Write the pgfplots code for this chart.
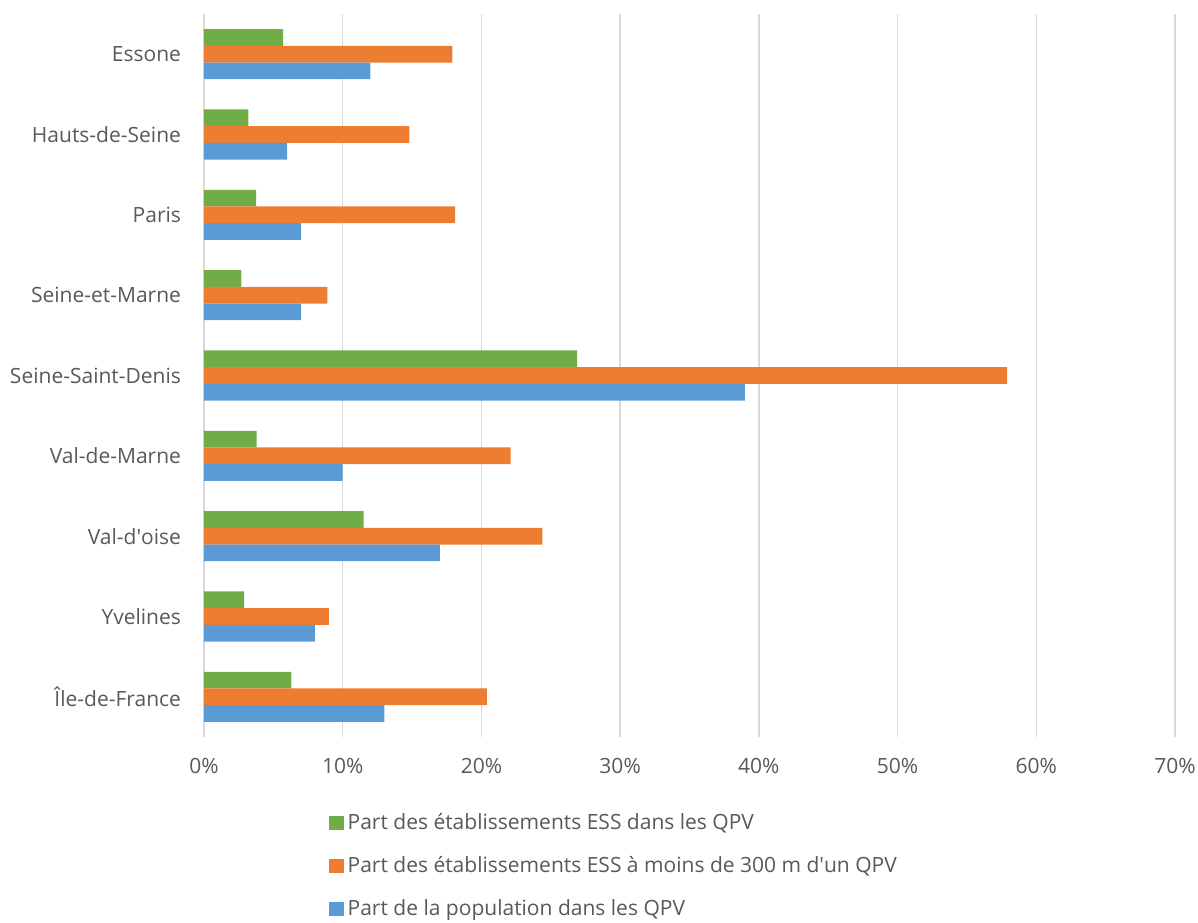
\documentclass[border=0pt]{standalone}
\usepackage{fontspec}
\setmainfont{Open Sans}
\usepackage{pgfplots}
\pgfplotsset{compat=1.18}
\definecolor{cgreen}{HTML}{70AD47}
\definecolor{corange}{HTML}{ED7D31}
\definecolor{cblue}{HTML}{5B9BD5}
\definecolor{ctext}{HTML}{595959}
\definecolor{cgrid}{HTML}{D9D9D9}
\begin{document}
\begin{tikzpicture}[font=\fontsize{10.5}{12.5}\selectfont]
\useasboundingbox (-102pt,-92.5pt) rectangle (497pt,368.5pt);
\begin{axis}[
  at={(0,0)}, anchor=south west,
  scale only axis, width=485.5pt, height=361.5pt,
  xmin=0, xmax=70, ymin=-0.5, ymax=8.5,
  xtick={0,10,...,70},
  xticklabel={\pgfmathprintnumber{\tick}\%},
  /pgf/number format/assume math mode=true,
  ytick={0,...,8},
  yticklabels={Île-de-France,Yvelines,Val-d\textquotesingle oise,Val-de-Marne,Seine-Saint-Denis,Seine-et-Marne,Paris,Hauts-de-Seine,Essone},
  xmajorgrids, major grid style={cgrid, line width=0.75pt},
  axis line style={draw=none},
  major tick length=0pt,
  tick label style={text=ctext},
  xticklabel style={yshift=-7pt},
  yticklabel style={xshift=-8pt},
  xbar, bar width=8.35pt,
  legend style={draw=none, at={(0.122,-0.094)}, anchor=north west, text=ctext,
    legend cell align=left, row sep=8pt,
    /tikz/every even column/.append style={column sep=2pt}},
  legend image code/.code={\fill[#1] (0pt,-3.6pt) rectangle (7.4pt,3.6pt);},
]
\addplot[fill=cgreen, draw=none, bar shift=8.35pt] coordinates {
(5.7,8) (3.2,7) (3.75,6) (2.7,5) (26.9,4) (3.8,3) (11.5,2) (2.9,1) (6.3,0)};
\addplot[fill=corange, draw=none, bar shift=0pt] coordinates {
(17.9,8) (14.8,7) (18.1,6) (8.9,5) (57.9,4) (22.1,3) (24.4,2) (9.0,1) (20.4,0)};
\addplot[fill=cblue, draw=none, bar shift=-8.35pt] coordinates {
(12.0,8) (6.0,7) (7.0,6) (7.0,5) (39.0,4) (10.0,3) (17.0,2) (8.0,1) (13.0,0)};
\legend{Part des établissements ESS dans les QPV,
Part des établissements ESS à moins de 300 m d\textquotesingle un QPV,
Part de la population dans les QPV}
\end{axis}
\end{tikzpicture}
\end{document}
